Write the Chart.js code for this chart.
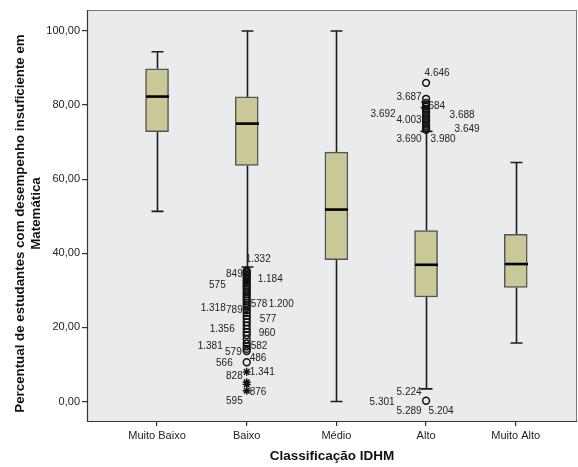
<!DOCTYPE html>
<html>
<head>
<meta charset="utf-8">
<script src="https://cdn.jsdelivr.net/npm/chart.js@4.4.1/dist/chart.umd.min.js"></script>
<style>
  html, body { margin: 0; padding: 0; background: #ffffff; }
  canvas { display: block; }
</style>
</head>
<body>
<canvas id="c" width="578" height="467"></canvas>
<script>
// Categories and box-plot summary values (percent)
const categories = ['Muito Baixo', 'Baixo', 'Médio', 'Alto', 'Muito Alto'];
const whiskerLow  = [51.3, 36.3, 0.0, 3.4, 15.8];
const quartile1   = [72.8, 63.7, 38.3, 28.2, 30.8];
const medians     = [82.3, 75.0, 51.8, 36.9, 37.1];
const quartile3   = [89.8, 82.2, 67.3, 46.1, 45.1];
const whiskerHigh = [94.4, 100.0, 100.0, 72.9, 64.5];

// Outliers (circles) and extreme values (stars)
const outliersBaixo = [35.3, 35.0, 34.6, 34.2, 33.8, 33.3, 32.8, 32.3, 31.8, 31.3, 30.8, 30.2,
  29.6, 29.0, 28.4, 27.8, 27.2, 26.6, 26.0, 25.3, 24.6, 23.9, 23.1, 22.3, 21.4, 20.5, 19.6,
  18.7, 17.9, 16.8, 15.7, 14.9, 14.2, 13.6, 10.6];
const extremesBaixo = [8.0, 5.2, 4.6, 2.9];
const outliersAlto = [86.0, 81.7, 80.6, 80.1, 79.6, 79.0, 78.5, 78.0, 77.4, 76.9, 76.3, 75.8,
  75.2, 74.7, 74.2, 73.7, 73.3, 0.2];

// Case identifiers shown beside the outliers: [text, value]
const caseLabelsBaixo = [
  ['1.332', 38.4], ['849', 34.3], ['575', 31.4], ['1.184', 33.0], ['1.318', 25.1],
  ['789', 24.5], ['578', 26.2], ['1.200', 26.2], ['577', 22.2], ['1.356', 19.5],
  ['960', 18.5], ['1.381', 14.8], ['579', 13.4], ['582', 15.0], ['566', 10.3],
  ['486', 11.6], ['828', 6.9], ['1.341', 8.0], ['876', 2.4], ['595', 0.2]
];
const caseLabelsAlto = [
  ['4.646', 88.7], ['3.687', 82.2], ['3.684', 79.7], ['3.692', 77.4], ['4.003', 75.9],
  ['3.688', 77.2], ['3.649', 73.6], ['3.690', 70.7], ['3.980', 70.8], ['5.224', 2.6],
  ['5.301', -0.1], ['5.289', -2.5], ['5.204', -2.5]
];
// Horizontal placement of each case label relative to its box centre: [dx px, align]
const caseLayoutBaixo = [
  [-1, 'left'], [-4, 'right'], [-21, 'right'], [11, 'left'], [-21, 'right'],
  [-4, 'right'], [4, 'left'], [22, 'left'], [13, 'left'], [-12, 'right'],
  [12, 'left'], [-24, 'right'], [-5, 'right'], [4, 'left'], [-14, 'right'],
  [3, 'left'], [-4, 'right'], [3, 'left'], [3, 'left'], [-4, 'right']
];
const caseLayoutAlto = [
  [-1.5, 'left'], [-4.5, 'right'], [-6, 'left'], [-30.5, 'right'], [-4.5, 'right'],
  [23.5, 'left'], [28.5, 'left'], [-4.5, 'right'], [4.5, 'left'], [-4.5, 'right'],
  [-31.5, 'right'], [-4.5, 'right'], [2.5, 'left']
];

const yTicks = [0, 20, 40, 60, 80, 100];
const yTitle = ['Percentual de estudantes com desempenho insuficiente em', 'Matemática'];
const xTitle = 'Classificação IDHM';

const BOX_W = 23;
const CAP_W = 12;

const boxParts = {
  id: 'boxParts',
  beforeDraw(chart) {
    const { ctx, chartArea: a } = chart;
    ctx.save();
    ctx.fillStyle = '#EAEBED';
    ctx.fillRect(a.left, a.top, a.right - a.left, a.bottom - a.top);
    ctx.restore();
  },
  beforeDatasetsDraw(chart) {
    const { ctx, scales: { x, y } } = chart;
    ctx.save();
    // case labels
    ctx.font = '10px "Liberation Sans", Arial, sans-serif';
    ctx.fillStyle = '#222';
    ctx.textBaseline = 'middle';
    const drawLabels = (labels, layout, cat) => {
      const cx = x.getPixelForValue(cat);
      labels.forEach(([t, v], i) => {
        const [dx, al] = layout[i];
        ctx.textAlign = al;
        ctx.fillText(t, cx + dx, y.getPixelForValue(v));
      });
    };
    drawLabels(caseLabelsBaixo, caseLayoutBaixo, 2);
    drawLabels(caseLabelsAlto, caseLayoutAlto, 4);

    // whiskers and caps
    ctx.strokeStyle = '#1c1c1c';
    ctx.lineWidth = 1.6;
    categories.forEach((c, i) => {
      const cx = Math.round(x.getPixelForValue(i + 1)) + 0.5;
      const yHi = y.getPixelForValue(whiskerHigh[i]);
      const yLo = y.getPixelForValue(whiskerLow[i]);
      ctx.beginPath();
      ctx.moveTo(cx, y.getPixelForValue(quartile3[i]));
      ctx.lineTo(cx, yHi);
      ctx.moveTo(cx, y.getPixelForValue(quartile1[i]));
      ctx.lineTo(cx, yLo);
      ctx.moveTo(cx - CAP_W / 2, yHi);
      ctx.lineTo(cx + CAP_W / 2, yHi);
      ctx.moveTo(cx - CAP_W / 2, yLo);
      ctx.lineTo(cx + CAP_W / 2, yLo);
      ctx.stroke();
    });
    ctx.restore();
  },
  afterDatasetsDraw(chart) {
    const { ctx, chartArea: a, scales: { x, y } } = chart;
    ctx.save();
    ctx.strokeStyle = '#000';
    ctx.lineWidth = 2.6;
    categories.forEach((c, i) => {
      const cx = Math.round(x.getPixelForValue(i + 1)) + 0.5;
      const my = y.getPixelForValue(medians[i]);
      ctx.beginPath();
      ctx.moveTo(cx - BOX_W / 2, my);
      ctx.lineTo(cx + BOX_W / 2, my);
      ctx.stroke();
    });
    // plot frame
    ctx.lineWidth = 1;
    ctx.strokeStyle = '#7a7a7a';
    ctx.beginPath();
    ctx.moveTo(a.left, a.top + 0.5);
    ctx.lineTo(a.right, a.top + 0.5);
    ctx.moveTo(a.right - 0.5, a.top);
    ctx.lineTo(a.right - 0.5, a.bottom);
    ctx.stroke();
    ctx.strokeStyle = '#333';
    ctx.lineWidth = 1.2;
    ctx.beginPath();
    ctx.moveTo(a.left + 0.5, a.top);
    ctx.lineTo(a.left + 0.5, a.bottom + 0.5);
    ctx.lineTo(a.right, a.bottom + 0.5);
    ctx.stroke();

    // vertical axis title, two lines
    ctx.fillStyle = '#111';
    ctx.font = 'bold 13.3px "Liberation Sans", Arial, sans-serif';
    ctx.textAlign = 'center';
    ctx.textBaseline = 'middle';
    const cy = (a.top + a.bottom) / 2;
    [[yTitle[0], 20, cy + 8], [yTitle[1], 36, cy - 2]].forEach(([t, tx, ty]) => {
      ctx.save();
      ctx.translate(tx, ty);
      ctx.rotate(-Math.PI / 2);
      ctx.fillText(t, 0, 0);
      ctx.restore();
    });
    ctx.restore();
  }
};

const tickFont = { family: '"Liberation Sans", Arial, sans-serif', size: 11 };
const titleFont = { family: '"Liberation Sans", Arial, sans-serif', size: 13.5, weight: 'bold', lineHeight: 1.2 };

new Chart(document.getElementById('c'), {
  type: 'bar',
  data: {
    datasets: [
      {
        type: 'bar',
        data: categories.map((c, i) => ({ x: i + 1, y: [quartile1[i], quartile3[i]] })),
        backgroundColor: '#C9C997',
        borderColor: '#555',
        borderWidth: 1.5,
        borderSkipped: false,
        barThickness: BOX_W,
        grouped: false,
        order: 2
      },
      {
        type: 'line',
        data: outliersBaixo.map(v => ({ x: 2, y: v })).concat(outliersAlto.map(v => ({ x: 4, y: v }))),
        showLine: false,
        pointStyle: 'circle',
        pointRadius: 3.4,
        pointBorderWidth: 1.5,
        pointBorderColor: '#111',
        pointBackgroundColor: 'rgba(0,0,0,0)',
        order: 1
      },
      {
        type: 'line',
        data: extremesBaixo.map(v => ({ x: 2, y: v })),
        showLine: false,
        pointStyle: 'star',
        pointRadius: 4,
        pointBorderWidth: 1.4,
        pointBorderColor: '#111',
        order: 1
      }
    ]
  },
  options: {
    responsive: false,
    animation: false,
    events: [],
    layout: { autoPadding: false, padding: { top: 10, right: 1, left: 0, bottom: 0 } },
    plugins: { legend: { display: false }, tooltip: { enabled: false } },
    scales: {
      x: {
        type: 'linear',
        offset: false,
        min: 0.219,
        max: 5.683,
        afterBuildTicks: s => { s.ticks = categories.map((c, i) => ({ value: i + 1 })); },
        afterFit: s => { s.height = 46; s.paddingLeft = 0; s.paddingRight = 0; },
        ticks: {
          callback: (v, i) => categories[i],
          font: tickFont, color: '#222', padding: 3, autoSkip: false, maxRotation: 0
        },
        grid: { offset: false, drawOnChartArea: false, drawTicks: true, tickLength: 5, color: '#333', lineWidth: 1.2 },
        border: { display: false },
        title: { display: true, text: xTitle, font: titleFont, color: '#111', padding: { top: 0, bottom: 3 } }
      },
      y: {
        type: 'linear',
        min: -5.26,
        max: 105.66,
        afterBuildTicks: s => { s.ticks = yTicks.map(v => ({ value: v })); },
        afterFit: s => { s.width = 87; },
        ticks: {
          callback: v => v.toFixed(2).replace('.', ','),
          font: tickFont, color: '#222', padding: 2
        },
        grid: { drawOnChartArea: false, drawTicks: true, tickLength: 5, color: '#333', lineWidth: 1.2 },
        border: { display: false },
        title: { display: false }
      }
    }
  },
  plugins: [boxParts]
});
</script>
</body>
</html>
